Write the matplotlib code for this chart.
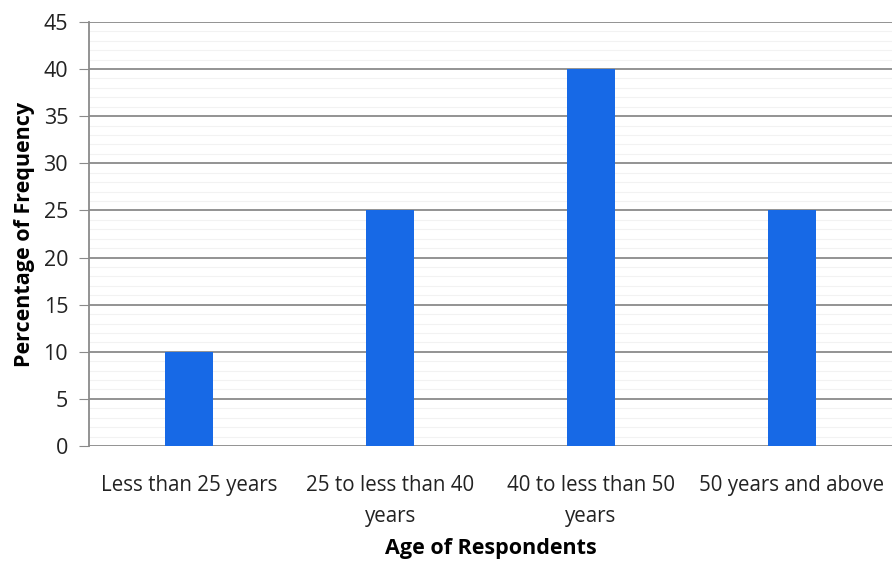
import matplotlib.pyplot as plt
import numpy as np

categories = ['Less than 25 years', '25 to less than 40\nyears',
              '40 to less than 50\nyears', '50 years and above']
percentages = [10, 25, 40, 25]
y_ticks = [0, 5, 10, 15, 20, 25, 30, 35, 40, 45]

plt.rcParams['font.family'] = ['Open Sans', 'DejaVu Sans']

fig = plt.figure(figsize=(8.96, 5.63), dpi=100)
ax = fig.add_axes([0.0993, 0.2078, 0.8962, 0.7532])

x = np.arange(len(categories))
ax.bar(x, percentages, width=0.24, color='#1769e6', zorder=3)

ax.set_xlim(-0.5, len(categories) - 0.5)
ax.set_ylim(0, 45)
ax.set_yticks(y_ticks)
ax.set_yticks(np.arange(0, 45, 1), minor=True)
ax.grid(axis='y', which='major', color='#8a8a8a', linewidth=1.3, zorder=1)
ax.grid(axis='y', which='minor', color='#f2f2f2', linewidth=0.8, zorder=0)
ax.tick_params(axis='y', which='minor', length=0)

ax.set_xticks(x)
ax.set_xticklabels(categories, fontsize=14.8, color='#222222', linespacing=1.6)
ax.tick_params(axis='x', length=0, pad=21)
ax.tick_params(axis='y', which='major', length=7, color='#8a8a8a',
               labelsize=15.5, labelcolor='#222222', pad=8)

for side in ['top', 'right', 'bottom']:
    ax.spines[side].set_visible(False)
ax.spines['left'].set_color('#8a8a8a')
ax.spines['left'].set_linewidth(1.3)

ax.set_xlabel('Age of Respondents', fontsize=15.5, fontweight='bold')
ax.xaxis.set_label_coords(0.5, -0.218)
ax.set_ylabel('Percentage of Frequency', fontsize=15.5, fontweight='bold', labelpad=6)

fig.savefig('out.png', dpi=100)
